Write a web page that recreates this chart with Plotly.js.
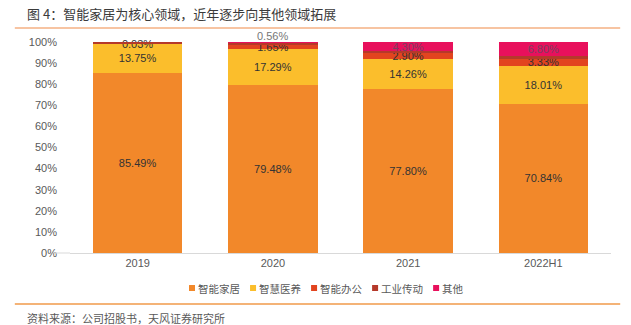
<!DOCTYPE html>
<html><head><meta charset="utf-8">
<script src="https://cdn.plot.ly/plotly-3.0.1.min.js"></script>
<style>html,body{margin:0;padding:0;background:#fff;}#c{width:631px;height:325px;}</style>
</head><body><div id="c"></div>
<script>
var categories = ['2019', '2020', '2021', '2022H1'];
var smartHome = [85.49, 79.48, 77.80, 70.84];
var smartCare = [13.75, 17.29, 14.26, 18.01];
var smartOffice = [0.03, 1.65, 2.90, 3.33];
var industrial = [0.73, 1.02, 0.74, 1.02];
var others = [0.00, 0.56, 4.30, 6.80];
var seriesNames = ['智能家居', '智慧医养', '智能办公', '工业传动', '其他'];
var colors = ['#F2882A', '#FBBE2C', '#E2441F', '#B5392A', '#E8105C'];

function fmt(v){ return v.toFixed(2) + '%'; }
function mk(name, vals, color, showText, tcolors){
  return {
    type:'bar', name:name, x:categories, y:vals,
    marker:{color:color},
    text: vals.map(function(v,i){ return showText[i] ? fmt(v) : ''; }),
    textposition:'inside', insidetextanchor:'middle',
    textfont:{family:'Liberation Sans, Arial, sans-serif', size:11, color:tcolors},
    hoverinfo:'none', cliponaxis:false, showlegend:false
  };
}
var traces = [
  mk(seriesNames[0], smartHome, colors[0], [1,1,1,1], '#333'),
  mk(seriesNames[1], smartCare, colors[1], [1,1,1,1], '#333'),
  mk(seriesNames[2], smartOffice, colors[2], [1,1,1,1], '#333'),
  mk(seriesNames[3], industrial, colors[3], [0,0,0,0], '#333'),
  mk(seriesNames[4], others, colors[4], [0,0,1,1], '#7a4060')
];

// label of the small "其他" share in 2020, sitting just above its segment
var totals = categories.map(function(c,i){ return smartHome[i]+smartCare[i]+smartOffice[i]+industrial[i]+others[i]; });
var idx2020 = categories.indexOf('2020');
var topLabel = {xref:'x', yref:'y', x:idx2020, y:totals[idx2020]-others[idx2020]/2, yanchor:'bottom', yshift:-1, showarrow:false,
  text:fmt(others[idx2020]), font:{family:'Liberation Sans, Arial, sans-serif', size:11, color:'#777'}};

// legend built from series names & colours
var legShapes = [], legAnns = [];
var legX0 = 0.22, legStep = 0.1128, legY = -0.166, sqW = 6/541, sqH = 6/211;
seriesNames.forEach(function(n, i){
  var x = legX0 + i*legStep;
  legShapes.push({type:'rect', xref:'paper', yref:'paper', x0:x, x1:x+sqW, y0:legY-sqH/2, y1:legY+sqH/2,
                  fillcolor:colors[i], line:{width:0}});
  legAnns.push({xref:'paper', yref:'paper', x:x+sqW+1/541, y:legY, xanchor:'left', yanchor:'middle',
                showarrow:false, text:n, font:{size:10.5, color:'#595959'}});
});

var layout = {
  width:631, height:325, barmode:'stack', bargap:0.34,
  margin:{l:70, r:20, t:42, b:72},
  paper_bgcolor:'#fff', plot_bgcolor:'#fff',
  font:{family:'Noto Sans CJK SC, Liberation Sans, sans-serif', color:'#595959', size:11},
  uniformtext:{mode:'show', minsize:11},
  xaxis:{type:'category', range:[-0.5, categories.length-0.5], showline:true, linecolor:'#d9d9d9', linewidth:1, ticks:'',
         tickfont:{family:'Liberation Sans, Arial', size:11, color:'#595959'}},
  yaxis:{range:[0,100], dtick:10, ticksuffix:'%', showgrid:false, zeroline:false, showline:false,
         tickfont:{family:'Liberation Sans, Arial', size:11, color:'#595959'}, ticklabelstandoff:12},
  showlegend:false,
  shapes:[
    {type:'line', xref:'paper', yref:'paper', x0:-0.102, x1:1.017, y0:1.066, y1:1.066, line:{color:'#F4B183', width:1.5}},
    {type:'line', xref:'paper', yref:'paper', x0:-0.102, x1:1.017, y0:-0.242, y1:-0.242, line:{color:'#F09A4A', width:1.5}},
    {type:'line', xref:'paper', yref:'paper', x0:-0.03, x1:0, y0:0, y1:0, line:{color:'#d9d9d9', width:1}}
  ].concat(legShapes),
  annotations:[
    {xref:'paper', yref:'paper', x:-0.083, y:1.133, xanchor:'left', yanchor:'middle', showarrow:false,
     text:'图 4：智能家居为核心领域，近年逐步向其他领域拓展', font:{size:13, color:'#3a3a3a'}},
    {xref:'paper', yref:'paper', x:-0.083, y:-0.308, xanchor:'left', yanchor:'middle', showarrow:false,
     text:'资料来源：公司招股书，天风证券研究所', font:{size:11, color:'#595959'}},
    topLabel
  ].concat(legAnns)
};
Plotly.newPlot('c', traces, layout, {displayModeBar:false, staticPlot:true});
</script></body></html>
